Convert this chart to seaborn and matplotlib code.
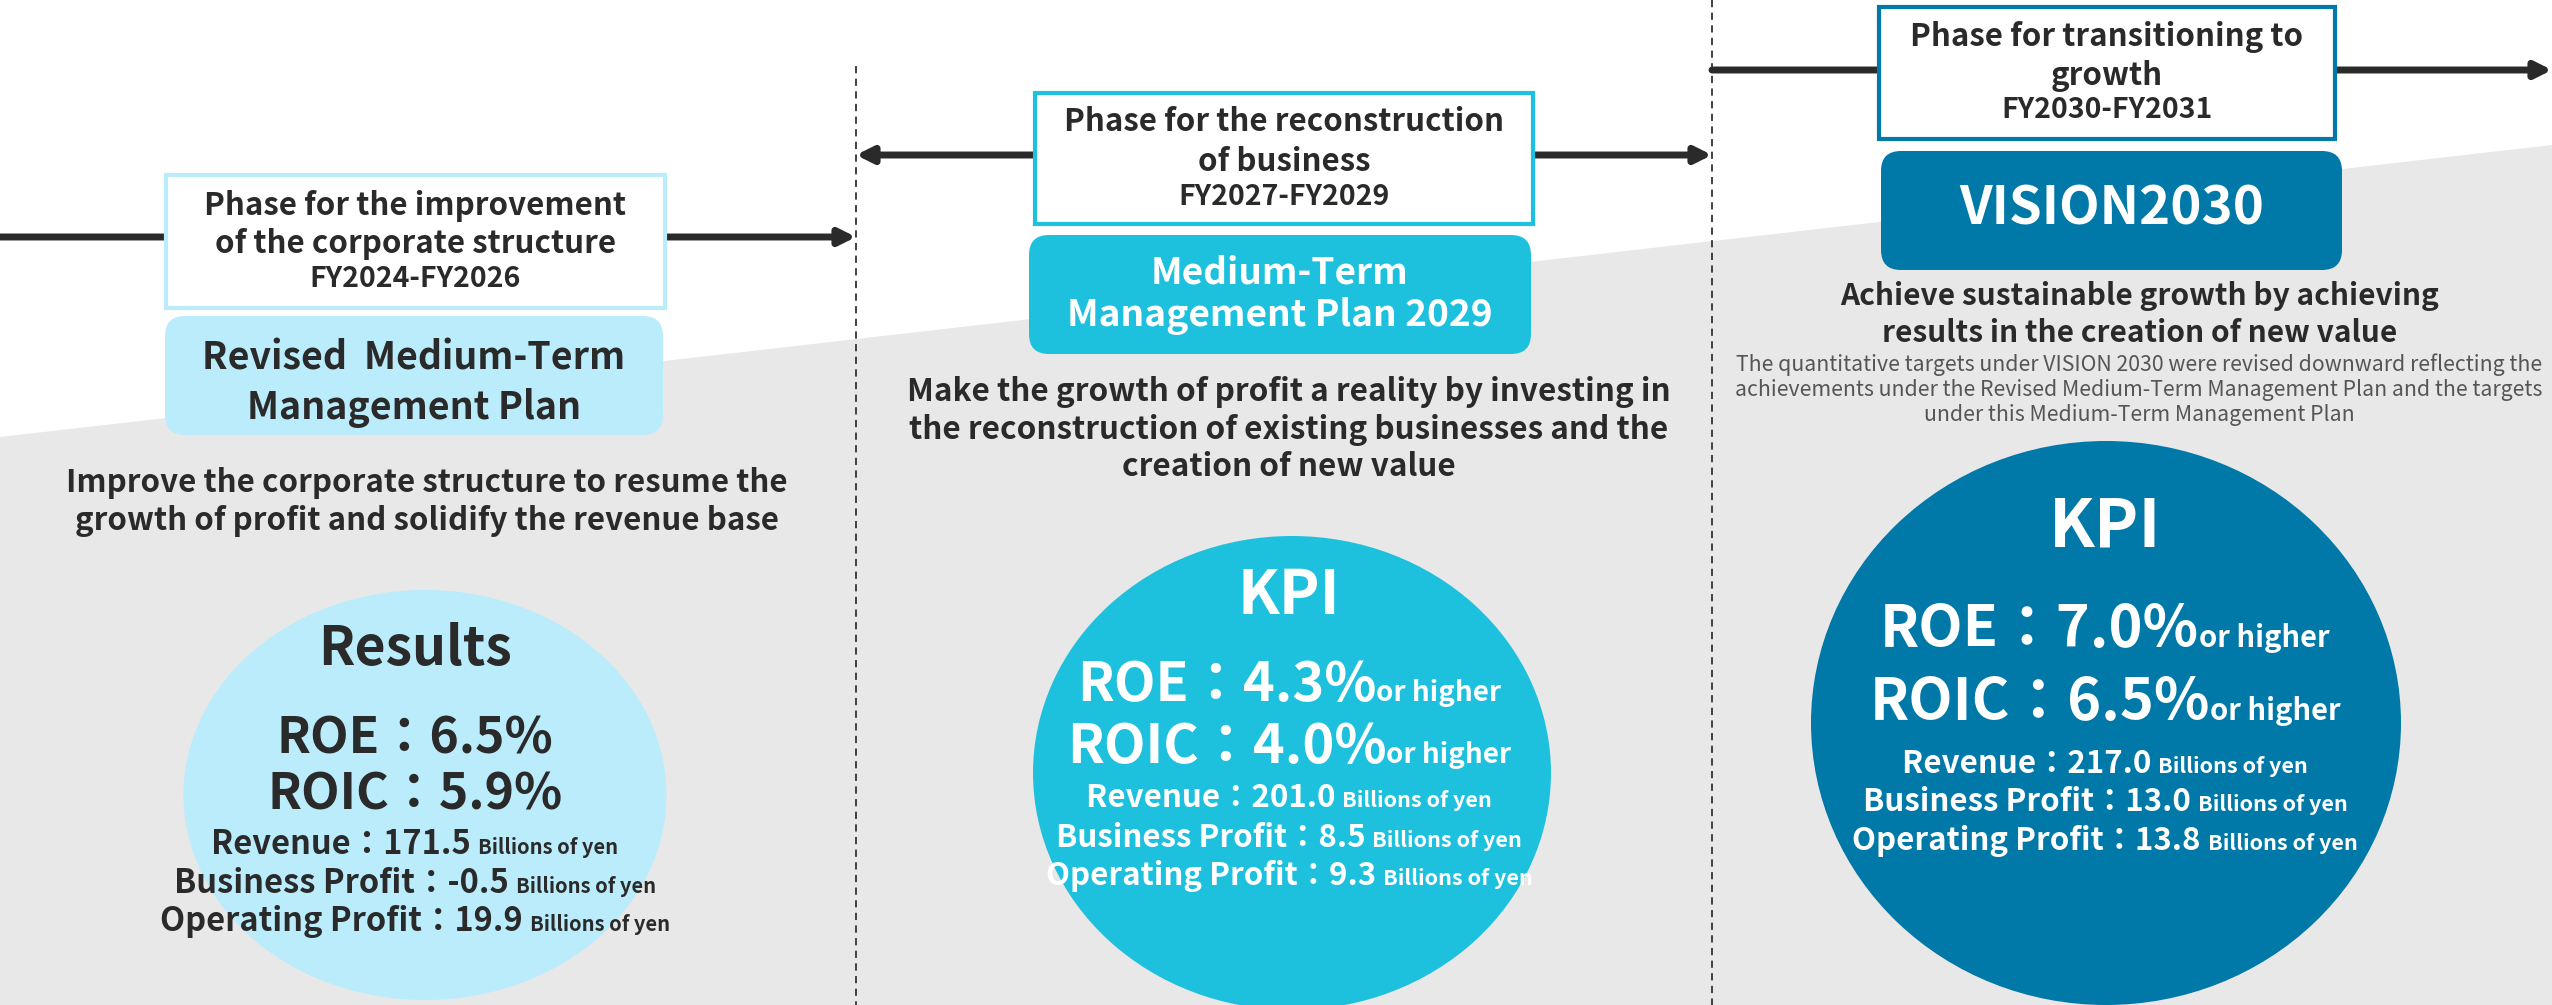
# Roadmap infographic: three management phases with KPI circles

import numpy as np
import matplotlib.pyplot as plt
import seaborn as sns
from matplotlib.patches import Rectangle, FancyBboxPatch, Ellipse, Polygon

sns.set_theme(style="white")
FONT = ['Noto Sans CJK JP', 'DejaVu Sans']
plt.rcParams['font.family'] = FONT

# ---- data ----
phase_titles = [["Phase for the improvement", "of the corporate structure"],
                ["Phase for the reconstruction", "of business"],
                ["Phase for transitioning to", "growth"]]
phase_years = ["FY2024-FY2026", "FY2027-FY2029", "FY2030-FY2031"]
plan_names = [["Revised  Medium-Term", "Management Plan"],
              ["Medium-Term", "Management Plan 2029"],
              ["VISION2030"]]
goals = [["Improve the corporate structure to resume the",
          "growth of profit and solidify the revenue base"],
         ["Make the growth of profit a reality by investing in",
          "the reconstruction of existing businesses and the",
          "creation of new value"],
         ["Achieve sustainable growth by achieving",
          "results in the creation of new value"]]
vision_note = ["The quantitative targets under VISION 2030 were revised downward reflecting the",
               "achievements under the Revised Medium-Term Management Plan and the targets",
               "under this Medium-Term Management Plan"]
circle_titles = ["Results", "KPI", "KPI"]
roe = [6.5, 4.3, 7.0]
roic = [5.9, 4.0, 6.5]
revenue = [171.5, 201.0, 217.0]
business_profit = [-0.5, 8.5, 13.0]
operating_profit = [19.9, 9.3, 13.8]
kpi_suffix = ["", "or higher", "or higher"]
unit = "Billions of yen"

# ---- styling ----
colors = sns.color_palette(["#bbecfc", "#1ec1dd", "#0079a8"])
DARK = "#2a2a2a"
GREY_BG = "#e8e8e8"

W, H = 2552, 1005
fig = plt.figure(figsize=(W / 100, H / 100), dpi=100)
ax = fig.add_axes([0, 0, 1, 1])
ax.set_xlim(0, W)
ax.set_ylim(H, 0)
ax.axis('off')

# layout of each column
cols = [
    dict(box=(166, 175, 499, 133), title_y=[205, 243], year_y=278,
         plan=(165, 316, 498, 119), plan_y=[357, 407], plan_size=27,
         goal_x=427, goal_y=[482, 520], goal_size=22.5,
         ell=(425, 795, 483, 410), tx=415,
         title_y2=648, title_size=38.5, kpi_y=[737, 793], kpi_size=36, suf_size=20,
         fin_y=[843, 882, 920], fin_size=23.5, unit_size=14.5,
         arrow=(0, 237, 856, 237), arrow_style='-|>'),
    dict(box=(1035, 93, 498, 131), title_y=[121, 161], year_y=196,
         plan=(1029, 235, 502, 119), plan_y=[271, 314], plan_size=26.7,
         goal_x=1289, goal_y=[391, 429, 466], goal_size=22.7,
         ell=(1292, 773, 518, 474), tx=1289,
         title_y2=594, title_size=44, kpi_y=[683, 745], kpi_size=39, suf_size=20,
         fin_y=[797, 837, 875], fin_size=22.5, unit_size=15.5,
         arrow=(856, 155, 1712, 155), arrow_style='<|-|>'),
    dict(box=(1879, 7, 456, 132), title_y=[36, 75], year_y=109,
         plan=(1881, 151, 461, 119), plan_y=[207], plan_size=38,
         goal_x=2140, goal_y=[295, 332], goal_size=21.5,
         ell=(2106, 723, 590, 564), tx=2105,
         title_y2=525, title_size=48, kpi_y=[628, 701], kpi_size=41.5, suf_size=21,
         fin_y=[763, 801, 840], fin_size=22.5, unit_size=15.5,
         arrow=(1712, 70, 2552, 70), arrow_style='-|>'),
]


def put(x, y, s, size, color=DARK, weight='bold', ha='center'):
    # y is the visual middle of the capitals
    return ax.text(x, y + 0.45 * size, s, fontsize=size, fontweight=weight,
                   color=color, ha=ha, va='baseline', zorder=6)


def mixed_line(cx, y, parts, color):
    # parts: (text, size); centred as a group on one baseline
    base = y + 0.45 * parts[0][1]
    arts = [ax.text(0, base, s, fontsize=sz, fontweight='bold', color=color,
                    ha='left', va='baseline', zorder=6) for s, sz in parts]
    r = fig.canvas.get_renderer()
    widths = [a.get_window_extent(r).width for a in arts]
    x = cx - sum(widths) / 2
    for a, w in zip(arts, widths):
        a.set_x(x)
        x += w


# grey slanted background
ax.add_patch(Polygon([(0, 437), (W, 145), (W, H), (0, H)], closed=True,
                     facecolor=GREY_BG, edgecolor='none', zorder=0))

# dashed separators
ax.plot([856, 856], [66, H], ls=(0, (4, 3)), lw=1.3, color="#333333", zorder=1)
ax.plot([1712, 1712], [0, H], ls=(0, (4, 3)), lw=1.3, color="#333333", zorder=1)

for i, c in enumerate(cols):
    col = colors[i]
    txt_col = DARK if i == 0 else "white"

    # timeline arrow
    x0, y0, x1, y1 = c['arrow']
    ax.annotate("", xy=(x1, y1), xytext=(x0, y0),
                arrowprops=dict(arrowstyle=c['arrow_style'], lw=5, color=DARK,
                                shrinkA=0, shrinkB=0, mutation_scale=24),
                zorder=3)

    # phase box
    bx, by, bw, bh = c['box']
    ax.add_patch(Rectangle((bx, by), bw, bh, facecolor='white', edgecolor=col,
                           lw=3, zorder=4))
    bcx = bx + bw / 2
    for line, yy in zip(phase_titles[i], c['title_y']):
        put(bcx, yy, line, 22.5)
    put(bcx, c['year_y'], phase_years[i], 20.5)

    # plan name box
    px, py, pw, ph = c['plan']
    ax.add_patch(FancyBboxPatch((px + 20, py + 20), pw - 40, ph - 40,
                                boxstyle="round,pad=20", facecolor=col,
                                edgecolor='none', zorder=4))
    for line, yy in zip(plan_names[i], c['plan_y']):
        put(px + pw / 2, yy, line, c['plan_size'], color=txt_col)

    # goal text
    for line, yy in zip(goals[i], c['goal_y']):
        put(c['goal_x'], yy, line, c['goal_size'])

    # KPI ellipse
    ex, ey, ew, eh = c['ell']
    ax.add_patch(Ellipse((ex, ey), ew, eh, facecolor=col, edgecolor='none', zorder=2))
    put(c['tx'], c['title_y2'], circle_titles[i], c['title_size'], color=txt_col)
    for name, vals, yy in zip(["ROE", "ROIC"], [roe, roic], c['kpi_y']):
        parts = [(f"{name}：{vals[i]:.1f}%", c['kpi_size'])]
        if kpi_suffix[i]:
            parts.append((kpi_suffix[i], c['suf_size']))
        mixed_line(c['tx'], yy, parts, txt_col)
    for name, vals, yy in zip(["Revenue", "Business Profit", "Operating Profit"],
                              [revenue, business_profit, operating_profit], c['fin_y']):
        mixed_line(c['tx'], yy, [(f"{name}：{vals[i]:.1f} ", c['fin_size']),
                                 (unit, c['unit_size'])], txt_col)

# note under VISION2030 goal
for line, yy in zip(vision_note, [364, 389, 414]):
    put(2139, yy, line, 15.3, color="#555555", weight='normal')

fig.savefig("out.png", dpi=100)
